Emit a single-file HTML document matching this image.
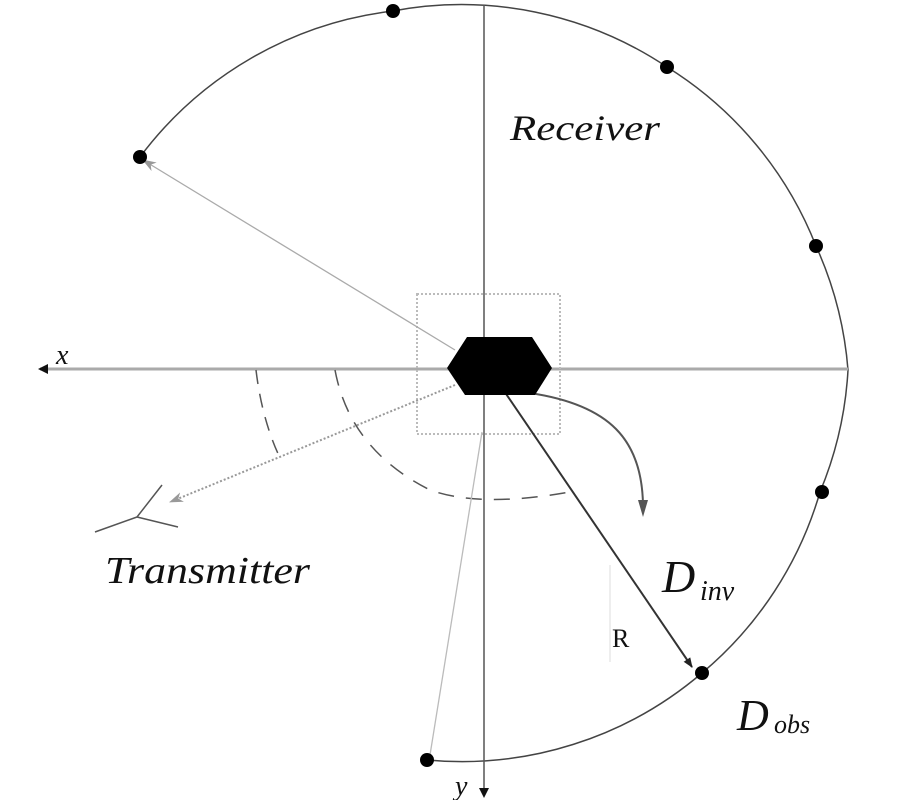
<!DOCTYPE html>
<html><head><style>body{margin:0;background:#fff}svg{display:block}</style></head><body>
<svg width="900" height="800" viewBox="0 0 900 800" xmlns="http://www.w3.org/2000/svg">
<defs>
<marker id="ah" markerWidth="10" markerHeight="8" refX="9" refY="4" orient="auto" markerUnits="userSpaceOnUse"><path d="M0,0 L10,4 L0,8 Z" fill="#222"/></marker>
<marker id="ahg" markerWidth="14" markerHeight="10" refX="13" refY="5" orient="auto" markerUnits="userSpaceOnUse"><path d="M0,0 L14,5 L0,10 L4,5 Z" fill="#999"/></marker>
</defs>
<path d="M140,157 A370,370 0 0 1 393,11 A370,370 0 0 1 667,67 A370,370 0 0 1 816,246 A370,370 0 0 1 848,370 A370,370 0 0 1 820,492 A370,370 0 0 1 702,673 A370,370 0 0 1 427,760" fill="none" stroke="#444" stroke-width="1.5"/>
<line x1="40" y1="369" x2="848" y2="369" stroke="#aaa" stroke-width="3"/>
<path d="M38,369 L48,364 L48,374 Z" fill="#111"/>
<line x1="484" y1="5" x2="484" y2="792" stroke="#555" stroke-width="1.5"/>
<path d="M484,798 L479,788 L489,788 Z" fill="#111"/>
<rect x="417" y="294" width="143" height="140" fill="none" stroke="#bbb" stroke-width="2" stroke-dasharray="2,2"/>
<line x1="455" y1="350" x2="143" y2="160" stroke="#aaa" stroke-width="1.3" marker-end="url(#ahg)"/>
<line x1="455" y1="385" x2="170" y2="502" stroke="#999" stroke-width="2" stroke-dasharray="2,2" marker-end="url(#ahg)"/>
<path d="M137,517 L162,485 M137,517 L178,527 M137,517 L95,532" stroke="#555" stroke-width="1.5" fill="none"/>
<path d="M256,370 Q262,420 280,458" fill="none" stroke="#555" stroke-width="1.5" stroke-dasharray="14,10"/>
<path d="M335,370 Q350,450 430,490 Q480,508 570,492" fill="none" stroke="#555" stroke-width="1.5" stroke-dasharray="16,12"/>
<line x1="482" y1="432" x2="430" y2="755" stroke="#bbb" stroke-width="1.3"/>
<line x1="610" y1="565" x2="610" y2="662" stroke="#ddd" stroke-width="1"/>
<line x1="500" y1="385" x2="692" y2="667" stroke="#333" stroke-width="2" marker-end="url(#ah)"/>
<path d="M530,393 C610,405 642,440 643,505" fill="none" stroke="#555" stroke-width="2"/>
<path d="M643,517 L638,500 L648,500 Z" fill="#555"/>
<polygon points="447,368 467,337 532,337 552,368 535,395 465,395" fill="#000"/>
<g fill="#000">
<circle cx="140" cy="157" r="7"/><circle cx="393" cy="11" r="7"/><circle cx="667" cy="67" r="7"/>
<circle cx="816" cy="246" r="7"/><circle cx="822" cy="492" r="7"/><circle cx="702" cy="673" r="7"/><circle cx="427" cy="760" r="7"/>
</g>
<g font-family="Liberation Serif, serif" font-style="italic" fill="#111">
<text x="510" y="140" font-size="36" textLength="150" lengthAdjust="spacingAndGlyphs">Receiver</text>
<text x="105" y="583" font-size="38" textLength="205" lengthAdjust="spacingAndGlyphs">Transmitter</text>
<text x="56" y="364" font-size="28">x</text>
<text x="455" y="795" font-size="28">y</text>
<text x="662" y="592" font-size="46">D</text><text x="700" y="600" font-size="28">inv</text>
<text x="737" y="730" font-size="44">D</text><text x="774" y="733" font-size="26">obs</text>
</g>
<text x="612" y="647" font-family="Liberation Serif, serif" font-size="26" fill="#111">R</text>
</svg>
</body></html>
